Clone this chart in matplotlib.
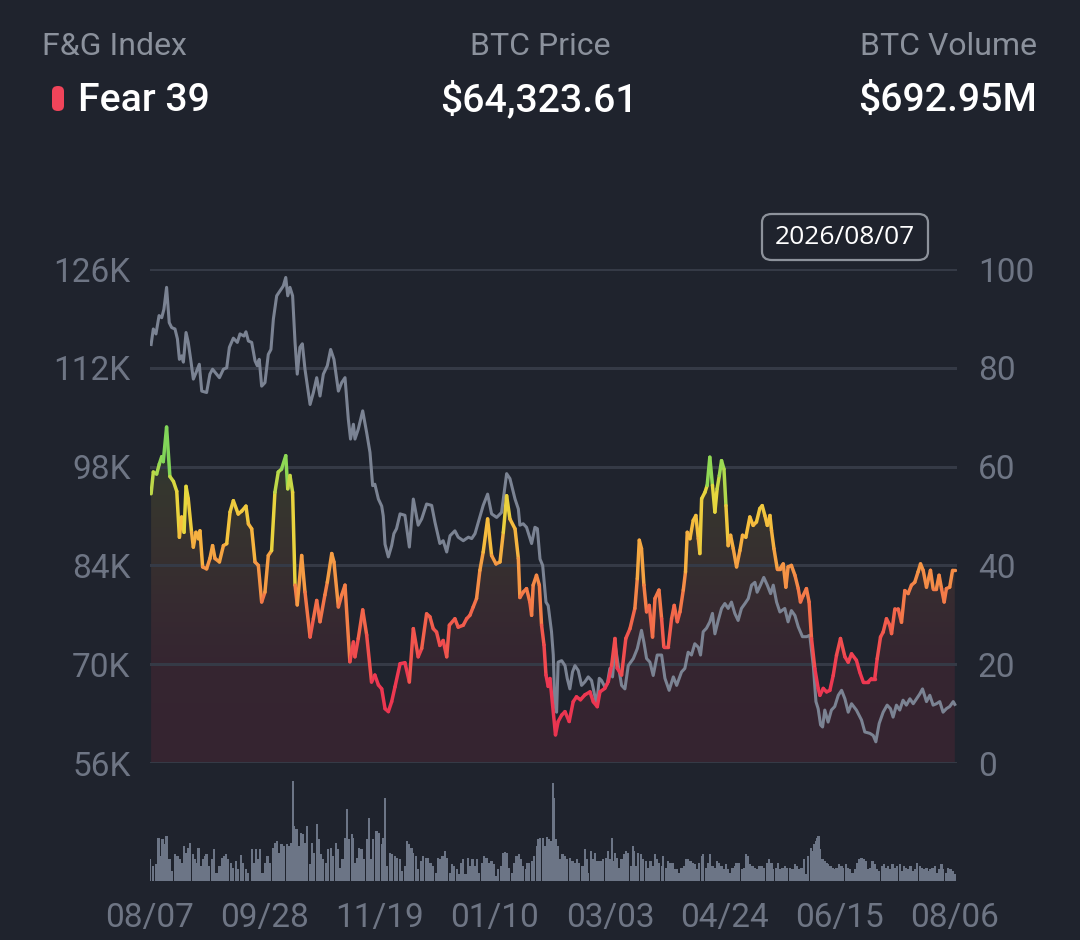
import numpy as np
import matplotlib

matplotlib.use("Agg")
import matplotlib.pyplot as plt
from matplotlib.collections import LineCollection
from matplotlib.colors import LinearSegmentedColormap
from matplotlib.patches import FancyBboxPatch, PathPatch
from matplotlib.path import Path

plt.rcParams["font.family"] = ["Roboto", "DejaVu Sans"]

# ---- data (x = days since 08/07) ----
fg_days = [
    0.5, 1.5, 3.0, 4.2, 5.3, 6.0, 7.5, 9.0, 10.6, 12.1, 13.3, 14.3, 15.4, 16.3, 17.3, 18.8,
    19.6, 20.8, 21.9, 22.6, 23.8, 25.6, 27.1, 28.3, 29.4, 31.4, 33.2, 34.7, 36.2, 37.7, 39.9,
    41.5, 43.4, 44.5, 46.0, 47.5, 49.0, 50.5, 52.0, 53.5, 55.0, 56.5, 58.0, 59.5, 61.4, 62.3,
    63.3, 64.5, 65.6, 66.6, 68.6, 70.1, 72.4, 73.9, 75.4, 76.9, 79.1, 80.2, 82.2, 83.2, 85.2,
    86.7, 88.2, 90.4, 92.0, 92.7, 94.2, 96.2, 98.0, 100.2, 101.7, 103.3, 104.8, 106.3, 107.8,
    109.3, 110.8, 113.1, 115.3, 117.3, 119.1, 121.3, 122.9, 125.1, 126.6, 128.1, 129.6, 131.1,
    132.6, 134.2, 135.4, 137.9, 139.4, 141.7, 143.2, 144.7, 146.2, 147.7, 149.2, 150.7, 152.7,
    154.5, 156.5, 158.3, 159.8, 161.3, 162.8, 165.1, 166.6, 167.3, 168.8, 170.3, 171.8, 172.6,
    173.3, 174.8, 176.1, 177.1, 178.2, 179.1, 180.1, 180.9, 182.1, 183.4, 184.6, 186.2, 187.7,
    189.6, 191.4, 192.9, 194.7, 196.7, 199.0, 200.5, 202.3, 203.5, 205.7, 207.3, 208.8, 210.3,
    211.3, 213.3, 215.2, 217.1, 219.3, 220.4, 221.3, 222.3, 223.4, 224.6, 225.8, 227.3, 228.4,
    230.2, 231.4, 232.4, 234.4, 235.9, 237.1, 238.5, 239.7, 241.2, 242.2, 243.0, 244.2, 245.7,
    246.9, 248.0, 248.7, 249.5, 251.0, 252.0, 253.2, 254.4, 255.5, 256.5, 257.5, 258.5, 259.6,
    260.5, 261.5, 262.6, 263.8, 265.3, 266.8, 268.0, 269.5, 271.3, 272.8, 274.3, 275.8, 276.9,
    278.1, 279.2, 280.4, 281.1, 282.2, 283.7, 284.9, 286.4, 287.6, 288.6, 290.1, 291.7, 293.2,
    294.2, 295.4, 296.9, 298.1, 299.2, 300.7, 302.2, 303.0, 304.5, 306.0, 307.5, 309.0, 310.5,
    312.3, 314.3, 315.8, 317.3, 319.5, 321.0, 322.6, 324.8, 326.3, 327.8, 328.9, 330.4, 331.6,
    333.1, 334.6, 335.4, 336.9, 338.4, 339.9, 341.4, 342.9, 344.4, 345.9, 347.4, 348.5, 349.7,
    351.2, 353.0, 354.2, 355.7, 356.9, 358.0, 359.2, 360.2, 361.7, 363.0, 364.0,
]
fg_index = [
    54.5, 58.9, 58.5, 60.5, 62.0, 61.0, 68.0, 58.0, 57.0, 55.0, 45.7, 49.8, 46.7, 56.0, 53.5, 46.7,
    43.7, 46.7, 45.4, 47.0, 39.7, 39.3, 41.4, 44.0, 41.4, 40.7, 44.0, 44.4, 50.8, 53.1, 50.4,
    51.0, 52.0, 48.4, 47.4, 40.7, 40.0, 32.6, 34.6, 42.0, 43.0, 54.8, 58.9, 59.5, 62.2, 55.5,
    58.2, 54.8, 36.0, 32.0, 42.0, 34.6, 25.5, 29.2, 32.9, 28.6, 34.0, 36.6, 42.4, 40.7, 31.6,
    34.0, 36.0, 20.5, 24.5, 21.5, 25.2, 31.0, 25.9, 16.4, 17.8, 15.8, 15.0, 11.0, 10.4,
    12.4, 15.4, 20.1, 20.3, 16.4, 27.2, 21.5, 23.2, 30.2, 29.6, 27.2, 26.5, 23.8,
    24.8, 21.5, 27.9, 29.2, 27.5, 27.9, 29.2, 29.9, 31.6, 33.3, 39.0, 42.7, 49.4,
    42.0, 40.3, 40.7, 46.7, 54.1, 49.4, 47.4, 41.4, 33.5, 34.6, 35.3, 32.6, 29.9,
    36.0, 38.0, 36.0, 27.9, 23.9, 17.8, 15.5, 17.1, 11.7, 5.7, 8.4, 9.7, 10.4,
    8.4, 12.4, 13.4, 12.8, 13.8, 14.4, 12.4, 11.4, 14.4, 15.1, 16.5, 19.8, 25.2,
    19.2, 17.8, 25.2, 27.2, 31.3, 37.3, 45.1, 43.4, 36.0, 30.6, 31.9, 25.5, 33.3,
    35.0, 29.2, 23.5, 23.5, 29.2, 31.9, 28.6, 30.6, 35.0, 38.7, 46.7, 45.4, 49.1,
    50.1, 45.4, 42.4, 53.5, 54.8, 56.2, 61.9, 56.2, 50.8, 55.5, 58.2, 61.2, 59.5,
    52.1, 44.0, 46.1, 43.4, 39.7, 43.0, 46.1, 45.7, 49.8, 48.1, 48.8, 51.5, 52.1,
    50.1, 48.1, 50.1, 47.1, 43.4, 39.3, 39.3, 40.3, 35.6, 39.7, 40.0, 38.0, 35.3,
    32.6, 33.9, 35.3, 32.6, 25.2, 19.1, 15.1, 13.7, 15.1, 14.4, 14.7, 17.7, 21.8,
    25.2, 21.5, 20.4, 22.1, 20.8, 18.4, 16.4, 16.4, 17.1, 17.1, 21.1, 25.5, 26.5,
    29.2, 27.9, 26.2, 31.2, 31.2, 28.5, 34.9, 34.3, 36.0, 36.6, 38.7, 40.3, 39.0,
    35.6, 39.0, 35.3, 35.3, 38.0, 35.3, 32.6, 35.3, 35.6, 39.0, 39.0,
]

price_days = [
    0.5, 1.5, 2.7, 4.1, 5.3, 6.3, 7.5, 8.7, 9.8, 11.3, 12.4, 13.3, 14.3, 15.1, 16.3, 17.3,
    18.4, 19.6, 20.8, 22.3, 23.4, 25.6, 27.1, 28.3, 30.1, 31.4, 33.2, 34.7, 35.9, 37.7, 39.5,
    40.7, 42.5, 43.4, 44.5, 46.0, 47.5, 48.5, 49.4, 50.5, 52.0, 53.5, 54.7, 55.8, 57.3, 58.8,
    60.3, 61.4, 62.3, 63.3, 64.5, 65.6, 66.6, 67.8, 68.9, 70.1, 72.4, 73.9, 75.4, 76.9, 78.4,
    80.2, 81.7, 83.2, 85.2, 86.7, 88.2, 89.7, 90.7, 92.0, 92.7, 94.2, 96.2, 98.0, 99.5, 100.7,
    101.7, 103.3, 104.8, 105.5, 106.3, 107.8, 109.3, 110.3, 111.5, 113.1, 115.3, 117.3, 119.1,
    121.3, 122.9, 125.1, 127.4, 128.9, 131.1, 132.6, 134.2, 135.7, 137.9, 139.4, 141.7, 144.0,
    145.5, 147.0, 148.5, 150.7, 152.7, 154.5, 156.8, 159.0, 161.3, 162.8, 165.1, 166.6, 167.3,
    168.8, 170.3, 172.6, 174.1, 175.2, 176.4, 177.6, 179.1, 180.1, 181.6, 182.4, 183.1, 183.9,
    184.6, 186.2, 187.7, 188.7, 189.9, 191.1, 192.2, 193.7, 195.2, 196.7, 198.2, 199.7, 200.8,
    202.0, 203.2, 204.2, 205.7, 206.8, 208.0, 209.2, 210.4, 211.8, 213.3, 214.8, 216.3, 218.6,
    220.4, 222.3, 223.4, 224.6, 226.1, 227.6, 229.4, 231.4, 232.9, 234.8, 236.7, 238.2, 240.4,
    241.9, 243.4, 244.9, 246.4, 248.0, 249.0, 250.2, 251.7, 253.2, 254.4, 255.5, 257.0, 258.5,
    260.0, 261.5, 263.0, 264.5, 266.0, 267.5, 269.1, 270.6, 272.1, 273.6, 274.6, 276.1, 277.6,
    279.2, 280.7, 281.9, 283.4, 284.9, 287.1, 288.6, 290.1, 291.7, 293.2, 295.1, 297.0, 298.4,
    300.0, 301.2, 302.2, 303.3, 304.2, 305.2, 306.7, 308.2, 309.7, 311.3, 312.8, 314.3, 315.8,
    317.3, 319.5, 321.8, 323.3, 325.6, 327.1, 328.3, 329.8, 331.6, 333.4, 334.9, 336.1, 337.6,
    339.1, 340.6, 342.1, 343.7, 345.2, 346.7, 348.2, 349.4, 351.2, 352.7, 354.2, 355.7, 357.2,
    358.7, 360.2, 361.7, 363.3, 364.0,
]
price_k = [
    115.3, 117.5, 116.8, 119.4, 119.1, 120.3, 123.4, 118.4, 117.7, 117.5, 116.1, 113.2, 113.7,
    112.8, 117.0, 115.6, 113.2, 110.4, 111.3, 112.5, 108.7, 108.5, 111.1, 111.8, 111.1, 110.6,
    111.8, 112.0, 114.9, 116.2, 115.6, 116.8, 116.5, 117.1, 115.8, 115.6, 113.0, 112.3, 113.2,
    109.4, 109.9, 113.9, 114.6, 118.9, 122.2, 122.9, 123.6, 124.8, 122.2, 123.4, 122.2, 115.6,
    111.1, 114.9, 115.4, 111.8, 106.8, 108.5, 110.6, 108.0, 111.1, 112.3, 114.6, 113.2, 108.7,
    109.9, 110.6, 104.7, 101.9, 104.0, 101.9, 103.3, 105.9, 102.8, 100.0, 95.3, 95.5, 93.4,
    92.4, 91.0, 87.0, 85.2, 86.8, 88.5, 89.2, 91.3, 91.1, 86.6, 93.4, 89.7, 90.6, 92.7, 92.5,
    90.1, 87.1, 87.5, 85.9, 88.2, 88.9, 88.0, 87.5, 88.0, 87.8, 88.5, 90.1, 92.5, 94.1, 91.3,
    90.8, 91.5, 97.0, 96.3, 93.4, 92.0, 89.7, 89.9, 89.4, 87.1, 89.4, 89.2, 84.9, 84.0, 78.8,
    78.3, 74.6, 71.3, 64.2, 63.2, 70.3, 70.5, 69.8, 68.0, 66.5, 68.9, 69.8, 69.1, 67.0, 67.5,
    68.2, 67.7, 66.1, 64.2, 68.0, 67.7, 66.8, 67.2, 69.4, 68.2, 72.7, 69.8, 67.0, 66.5, 69.8,
    70.8, 72.2, 74.8, 73.1, 70.8, 70.3, 68.4, 71.3, 71.3, 68.0, 66.3, 68.2, 67.0, 68.9, 69.4,
    71.7, 71.3, 72.9, 72.4, 71.3, 74.6, 75.1, 76.0, 77.2, 74.3, 76.2, 77.9, 78.6, 77.9, 78.8,
    77.2, 76.2, 77.9, 78.6, 79.3, 81.2, 81.6, 80.2, 81.2, 82.3, 81.2, 80.0, 81.2, 78.8, 77.4,
    77.9, 76.0, 77.6, 76.9, 75.3, 73.9, 73.9, 74.1, 69.8, 64.7, 63.7, 61.4, 61.1, 63.5, 61.8,
    63.5, 64.0, 65.6, 66.3, 65.1, 63.2, 64.4, 63.5, 62.1, 60.4, 60.2, 59.9, 59.0, 61.6, 63.2,
    64.2, 63.7, 62.5, 64.2, 63.5, 64.9, 64.2, 65.1, 64.4, 65.1, 65.8, 66.5, 64.7, 65.6, 64.2,
    64.4, 64.7, 63.2, 63.7, 64.0, 64.7, 64.3,
]

vol_days = [
    0.0, 1.5, 2.7, 3.8, 4.8, 5.7, 6.8, 7.5, 8.8, 9.8, 11.3, 12.4, 13.3, 14.3, 15.4, 16.3, 17.3,
    18.1, 19.3, 20.4, 21.1, 21.9, 22.9, 23.8, 24.9, 25.6, 26.8, 27.9, 28.9, 30.1, 31.4, 32.4,
    33.5, 34.4, 35.4, 36.5, 37.7, 38.9, 39.9, 41.0, 42.2, 43.4, 44.5, 46.0, 47.0, 47.9, 49.0,
    49.7, 50.9, 52.0, 53.1, 54.3, 55.5, 56.5, 57.3, 58.5, 59.5, 60.6, 61.8, 63.0, 63.6, 64.5,
    65.3, 66.3, 67.4, 68.3, 69.3, 70.1, 71.1, 72.4, 73.1, 74.2, 75.4, 76.4, 77.3, 78.4, 79.6,
    80.6, 81.7, 82.9, 84.1, 85.2, 86.2, 87.1, 88.2, 89.2, 90.1, 91.2, 91.9, 92.7, 93.5, 94.7,
    95.7, 96.8, 98.0, 99.2, 99.8, 101.0, 102.1, 102.8, 103.7, 104.8, 105.5, 106.3, 107.3, 108.5,
    109.6, 110.8, 111.8, 113.1, 114.1, 115.3, 116.4, 117.3, 118.3, 119.1, 120.3, 121.3, 122.4,
    123.6, 124.7, 125.9, 126.9, 128.1, 129.2, 130.1, 131.1, 132.3, 133.4, 134.5, 135.7, 136.7,
    137.6, 138.7, 139.7, 140.6, 141.7, 142.7, 144.0, 145.0, 145.9, 147.0, 148.0, 148.9, 150.0,
    151.0, 152.2, 153.3, 154.5, 155.6, 156.5, 157.5, 158.6, 159.5, 160.5, 161.3, 162.5, 163.6,
    164.6, 165.8, 166.9, 167.8, 168.8, 169.9, 170.6, 171.5, 172.6, 173.7, 174.9, 175.6, 176.4,
    177.6, 178.6, 179.4, 180.4, 181.3, 182.1, 182.8, 183.6, 184.7, 185.7, 186.6, 187.7, 188.7,
    189.9, 191.1, 192.2, 193.2, 194.2, 195.6, 196.7, 197.5, 198.2, 199.3, 200.2, 201.2, 202.0,
    203.2, 204.2, 205.0, 206.2, 207.3, 208.0, 208.8, 209.5, 210.3, 211.3, 212.2, 213.3, 214.3,
    215.2, 216.3, 217.4, 218.3, 218.9, 219.8, 220.8, 221.9, 223.1, 224.3, 225.3, 226.4, 227.6,
    228.4, 229.4, 230.3, 231.4, 232.1, 233.3, 234.4, 235.4, 236.7, 237.4, 238.5, 239.4, 240.4,
    241.5, 242.4, 243.4, 244.5, 245.4, 246.4, 247.2, 248.4, 249.5, 250.2, 251.3, 252.5, 253.2,
    254.4, 255.5, 256.5, 257.4, 258.5, 259.6, 260.5, 261.5, 262.6, 263.5, 264.5, 265.3, 266.5,
    267.6, 268.6, 269.5, 270.6, 271.3, 272.5, 273.6, 274.3, 275.5, 276.6, 277.7, 278.9, 280.1,
    281.1, 281.9, 283.1, 284.1, 285.2, 286.1, 287.1, 288.2, 289.4, 290.6, 291.7, 292.7, 293.6,
    294.7, 295.7, 296.6, 297.7, 298.8, 299.7, 300.3, 301.2, 301.8, 302.4, 303.0, 304.2, 305.2,
    306.0, 306.7, 307.8, 308.7, 309.8, 310.5, 311.7, 312.8, 313.5, 314.7, 315.8, 316.5, 317.7,
    318.8, 319.9, 320.8, 321.8, 322.9, 323.8, 324.8, 325.9, 326.8, 327.9, 328.9, 329.8, 330.9,
    331.9, 332.8, 333.9, 334.6, 335.8, 336.9, 337.9, 339.2, 339.9, 341.0, 341.9, 342.9, 344.0,
    344.9, 345.9, 347.0, 348.2, 349.0, 350.0, 351.2, 352.0, 353.0, 353.9, 355.0, 356.0, 356.9,
    358.0, 358.7, 359.9, 361.0, 362.1, 363.3, 364.0,
]
vol_bn = [
    2.26, 1.56, 1.74, 4.51, 2.60, 4.34, 3.82, 4.68, 2.26, 1.04, 2.78, 2.60, 2.26, 1.91, 3.64, 2.95,
    3.47, 3.99, 2.78, 2.26, 1.91, 3.47, 1.56, 2.26, 2.60, 2.78, 1.56, 2.26, 3.37, 0.87, 1.56,
    2.43, 2.60, 2.78, 2.26, 1.91, 1.39, 2.08, 1.21, 2.67, 1.91, 1.21, 0.87, 3.30, 1.91, 3.30,
    2.26, 3.30, 0.87, 1.91, 2.60, 1.91, 3.47, 3.99, 4.16, 2.95, 3.82, 3.64, 3.82, 3.64, 3.99,
    10.41, 5.73, 5.38, 3.64, 5.03, 4.86, 3.99, 5.73, 1.74, 3.99, 2.95, 5.90, 4.34, 2.78, 2.26,
    1.91, 3.30, 3.47, 2.60, 3.99, 3.30, 1.39, 2.26, 4.51, 7.46, 4.34, 4.86, 4.51, 1.91, 2.43,
    3.47, 3.30, 2.26, 4.34, 6.59, 2.26, 4.34, 5.21, 5.21, 5.03, 3.82, 4.51, 8.68, 1.56, 2.95,
    2.78, 2.60, 2.43, 2.26, 1.04, 1.56, 4.16, 3.82, 3.47, 2.95, 2.60, 1.21, 2.08, 2.60, 2.43,
    2.43, 1.91, 1.56, 0.87, 2.43, 2.26, 2.60, 3.12, 2.43, 0.87, 1.74, 1.56, 1.21, 0.69, 1.91,
    2.26, 0.69, 2.43, 1.56, 2.26, 1.56, 2.26, 0.87, 1.91, 2.60, 2.43, 1.91, 2.08, 1.74, 0.52,
    1.21, 1.56, 2.95, 3.02, 2.95, 1.39, 0.87, 1.91, 2.60, 2.78, 2.26, 1.56, 1.21, 1.91, 1.91,
    2.08, 2.60, 3.64, 4.34, 4.51, 4.51, 3.64, 4.62, 4.34, 4.16, 10.24, 8.68, 4.34, 3.64, 2.26,
    2.78, 2.60, 2.26, 2.43, 2.08, 1.91, 2.26, 1.91, 1.56, 3.30, 2.26, 0.87, 3.12, 2.26, 2.95,
    2.08, 2.08, 2.08, 2.26, 2.43, 3.12, 2.26, 4.51, 2.08, 2.95, 2.43, 1.39, 2.26, 2.78, 3.12,
    2.95, 1.56, 3.64, 3.12, 1.56, 2.95, 2.78, 2.26, 2.08, 1.39, 2.08, 1.56, 2.78, 2.26, 1.91,
    1.56, 2.60, 1.39, 2.08, 1.91, 1.91, 1.21, 1.21, 0.87, 1.39, 1.56, 2.26, 2.26, 2.08, 1.91,
    1.74, 1.21, 1.91, 2.60, 2.78, 1.39, 1.91, 2.78, 1.56, 1.39, 2.08, 1.91, 1.56, 1.21, 1.74,
    1.21, 0.87, 1.39, 1.56, 1.91, 1.91, 1.21, 1.39, 2.78, 2.60, 1.74, 1.56, 1.39, 1.21, 1.56,
    1.56, 1.39, 1.91, 2.26, 1.91, 1.21, 1.39, 1.91, 1.21, 1.39, 1.56, 1.39, 1.39, 1.21, 1.74,
    1.56, 1.21, 1.39, 2.26, 0.69, 2.60, 3.47, 3.12, 3.82, 4.16, 4.51, 4.68, 3.30, 2.26, 2.08,
    1.91, 1.74, 1.56, 1.39, 1.21, 1.39, 1.74, 1.56, 1.39, 1.74, 1.39, 1.21, 0.87, 1.21, 1.91,
    2.26, 2.43, 2.26, 2.08, 1.21, 1.39, 2.08, 1.74, 1.21, 1.04, 1.56, 1.74, 1.39, 1.56, 1.21,
    1.74, 1.39, 1.56, 1.74, 1.04, 1.56, 1.39, 1.21, 1.56, 1.04, 1.21, 1.91, 1.56, 1.39, 1.21,
    1.39, 1.04, 1.21, 1.39, 1.56, 0.87, 1.21, 1.74, 1.21, 0.87, 1.39, 1.21, 1.04, 0.69,
]

tick_days = [0, 52, 104, 156, 208, 260, 312, 364]
tick_labels = ["08/07", "09/28", "11/19", "01/10", "03/03", "04/24", "06/15", "08/06"]
price_ticks = [56, 70, 84, 98, 112, 126]
fg_ticks = [0, 20, 40, 60, 80, 100]

fg_label, fg_now = "Fear", 39
price_now = "$64,323.61"
volume_now = "$692.95M"
tooltip_date = "2026/08/07"

# ---- style ----
BG = "#1f232d"
GRID = "#353a46"
TICK = "#6e7584"
HEAD = "#8b919c"
PRICE = "#7b8393"
VOL = "#6c7586"
fg_cmap = LinearSegmentedColormap.from_list("fg", [
    (0.00, "#e8304f"), (0.20, "#ee3a52"), (0.30, "#f2604c"), (0.40, "#f59346"),
    (0.50, "#f6bf3e"), (0.56, "#e6d83e"), (0.62, "#8fd955"), (1.00, "#3cbf6b"),
])

W, H = 1080, 940
fig = plt.figure(figsize=(W / 100, H / 100), dpi=100, facecolor=BG)


def fx(px):
    return px / W


def fy(py):
    return 1 - py / H


XMAX = 365
TICK_SIZE = 24
rect = [fx(150), fy(763), fx(957) - fx(150), (763 - 269) / H]

# F&G axis: gradient area + grid, labels on the right
ax = fig.add_axes(rect)
ax.set_facecolor(BG)
area = Path([(fg_days[0], 0)] + list(zip(fg_days, fg_index)) + [(fg_days[-1], 0), (fg_days[0], 0)])
area_patch = PathPatch(area, facecolor="none", edgecolor="none")
ax.add_patch(area_patch)
shade = fg_cmap(np.linspace(0, 1, 256))[:, None, :]
shade[..., 3] = 0.11
img = ax.imshow(shade, extent=[0, XMAX, 0, 100], origin="lower", aspect="auto",
                interpolation="bilinear", zorder=1)
img.set_clip_path(area_patch)
ax.set_xlim(0, XMAX)
ax.set_ylim(0, 100)
ax.set_yticks(fg_ticks)
ax.yaxis.tick_right()
ax.tick_params(axis="y", length=0, pad=15, labelsize=TICK_SIZE, labelcolor=TICK)
ax.set_xticks([])
ax.set_axisbelow(False)
ax.grid(axis="y", color=GRID, linewidth=2.2)
for s in ax.spines.values():
    s.set_visible(False)

# price axis, labels on the left
ax_p = fig.add_axes(rect, sharex=ax)
ax_p.patch.set_visible(False)
ax_p.plot(price_days, price_k, color=PRICE, linewidth=2.2, solid_joinstyle="round")
ax_p.set_ylim(56, 126)
ax_p.set_yticks(price_ticks)
ax_p.set_yticklabels([f"{v}K" for v in price_ticks])
ax_p.yaxis.tick_left()
ax_p.tick_params(axis="y", length=0, pad=14, labelsize=TICK_SIZE, labelcolor=TICK)
ax_p.tick_params(axis="x", bottom=False, labelbottom=False)
for s in ax_p.spines.values():
    s.set_visible(False)

# F&G line on top, coloured by level
ax_l = fig.add_axes(rect, sharex=ax)
ax_l.patch.set_visible(False)
ax_l.set_ylim(0, 100)
pts = np.column_stack([fg_days, fg_index])
segs = np.stack([pts[:-1], pts[1:]], axis=1)
levels = np.maximum(pts[:-1, 1], pts[1:, 1]) / 100
lc = LineCollection(segs, colors=fg_cmap(levels), linewidths=2.5, capstyle="round",
                    joinstyle="round")
ax_l.add_collection(lc)
ax_l.axis("off")
ax.set_xlim(0, XMAX)

# volume bars
ax_v = fig.add_axes([fx(150), fy(881), fx(957) - fx(150), 110 / H])
ax_v.patch.set_visible(False)
ax_v.bar(vol_days, vol_bn, width=1.0, color=VOL, linewidth=0)
ax_v.set_xlim(0, XMAX)
ax_v.set_ylim(0, 11.45)
ax_v.set_yticks([])
ax_v.set_xticks(tick_days)
ax_v.set_xticklabels(tick_labels)
ax_v.tick_params(axis="x", length=0, pad=15, labelsize=TICK_SIZE, labelcolor=TICK)
for s in ax_v.spines.values():
    s.set_visible(False)

# header
HEAD_SIZE, VALUE_SIZE = 23, 28.3
fig.text(fx(42), fy(55), "F&G Index", color=HEAD, fontsize=HEAD_SIZE, ha="left", va="baseline")
fig.text(fx(540), fy(55), "BTC Price", color=HEAD, fontsize=HEAD_SIZE, ha="center", va="baseline")
fig.text(fx(1037), fy(55), "BTC Volume", color=HEAD, fontsize=HEAD_SIZE, ha="right", va="baseline")
fig.add_artist(FancyBboxPatch((fx(52), fy(111)), fx(12), 25 / H,
                              boxstyle="round,pad=0,rounding_size=0.0055",
                              facecolor="#f0445a", edgecolor="none",
                              transform=fig.transFigure))
fig.text(fx(78), fy(111), f"{fg_label} {fg_now}", color="white", fontsize=VALUE_SIZE,
         fontweight="medium", ha="left", va="baseline")
fig.text(fx(539), fy(111), price_now, color="white", fontsize=VALUE_SIZE,
         fontweight="medium", ha="center", va="baseline")
fig.text(fx(1037), fy(111), volume_now, color="white", fontsize=VALUE_SIZE,
         fontweight="medium", ha="right", va="baseline")

# date tooltip
fig.add_artist(FancyBboxPatch((fx(762), fy(260)), fx(166), 46 / H,
                              boxstyle="round,pad=0,rounding_size=0.009",
                              facecolor=BG, edgecolor="#8d929b", linewidth=1.6,
                              transform=fig.transFigure))
fig.text(fx(845), fy(237), tooltip_date, color="white", fontsize=19,
         family=["Open Sans", "DejaVu Sans"], ha="center", va="center")

fig.savefig("out.png", dpi=100, facecolor=BG)
